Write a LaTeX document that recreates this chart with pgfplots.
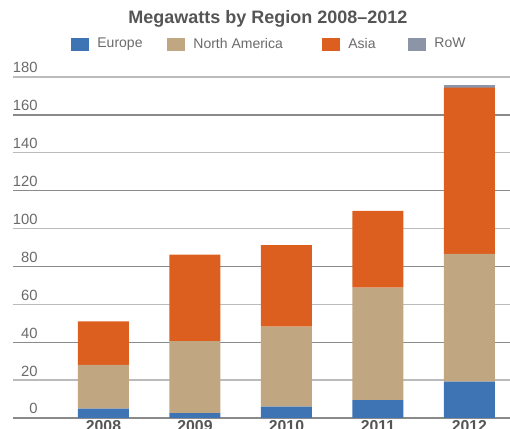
\documentclass[border=0pt]{standalone}
\usepackage{pgfplots}
\usepackage{pgfplotstable}
\pgfplotsset{compat=1.18}
\usepackage{fontspec}
\setmainfont{Liberation Sans}
\usetikzlibrary{calc}

\definecolor{europe}{HTML}{3E74B4}
\definecolor{namerica}{HTML}{C1A682}
\definecolor{asia}{HTML}{DD5F20}
\definecolor{row}{HTML}{8C95A8}
\definecolor{griddark}{HTML}{8A8A8A}
\definecolor{gridlight}{HTML}{BBBBBB}
\definecolor{labelgray}{HTML}{6A6A6A}
\definecolor{titlegray}{HTML}{555555}

% Megawatts installed per region and year
\pgfplotstableread{
x  Europe NAmerica Asia RoW
0  5.0    23.0     23.0 0
1  2.6    38.0     45.6 0
2  6.0    42.2     43.0 0
3  9.5    59.3     40.5 0
4  19.2   67.4     87.8 1.6
}\mwdata

\begin{document}
\begin{tikzpicture}
\begin{axis}[
  name=ax,
  scale only axis,
  width=248.5pt, height=170.5pt,
  ybar stacked,
  bar width=25.5pt,
  xmin=-0.989, xmax=4.443,
  ymin=0, ymax=180,
  axis line style={draw=none},
  major tick length=0pt,
  tick style={draw=none},
  xtick={0,1,2,3,4},
  xticklabels={2008,2009,2010,2011,2012},
  xticklabel style={font=\fontsize{7.9}{9}\selectfont\bfseries, text=titlegray, inner sep=0pt, anchor=north, yshift=-1pt},
  ytick={0,40,80,120,160},
  extra y ticks={20,60,100,140,180},
  extra y tick style={grid=major, major grid style={gridlight, line width=0.65pt}},
  ymajorgrids,
  major grid style={griddark, line width=0.65pt},
  yticklabel style={font=\fontsize{7.4}{9}\selectfont, text=labelgray, inner sep=0pt, anchor=base east, xshift=12.5pt, yshift=2pt},
  /pgf/number format/assume math mode=true,
  title={Megawatts by Region 2008--2012},
  title style={font=\fontsize{9}{11}\selectfont\bfseries, text=titlegray, at={(0.513,1.135)}, anchor=center, inner sep=0pt},
  legend columns=4,
  legend style={draw=none, fill=none, inner sep=0pt, at={(0.1167,1.0953)}, anchor=west,
    font=\fontsize{7}{8}\selectfont, text=labelgray, nodes={inner sep=0pt},
    /tikz/every odd column/.append style={column sep=4pt},
    /tikz/every even column/.append style={column sep=0pt}},
  legend image code/.code={\fill[#1] (0pt,-3.25pt) rectangle (9pt,3.25pt);},
  every axis plot/.append style={draw=none},
]
\addplot[fill=europe] table[x=x, y=Europe] {\mwdata};
\addlegendentry{\makebox[35pt][l]{Europe}}
\addplot[fill=namerica] table[x=x, y=NAmerica] {\mwdata};
\addlegendentry{\makebox[64.5pt][l]{North America}}
\addplot[fill=asia] table[x=x, y=Asia] {\mwdata};
\addlegendentry{\makebox[30pt][l]{Asia}}
\addplot[fill=row] table[x=x, y=RoW] {\mwdata};
\addlegendentry{\makebox[15.5pt][l]{RoW}}
\end{axis}
\pgfresetboundingbox
\path[use as bounding box] ($(ax.south west)+(-6.5pt,-5.5pt)$) rectangle ++(255pt,214.5pt);
\end{tikzpicture}
\end{document}
